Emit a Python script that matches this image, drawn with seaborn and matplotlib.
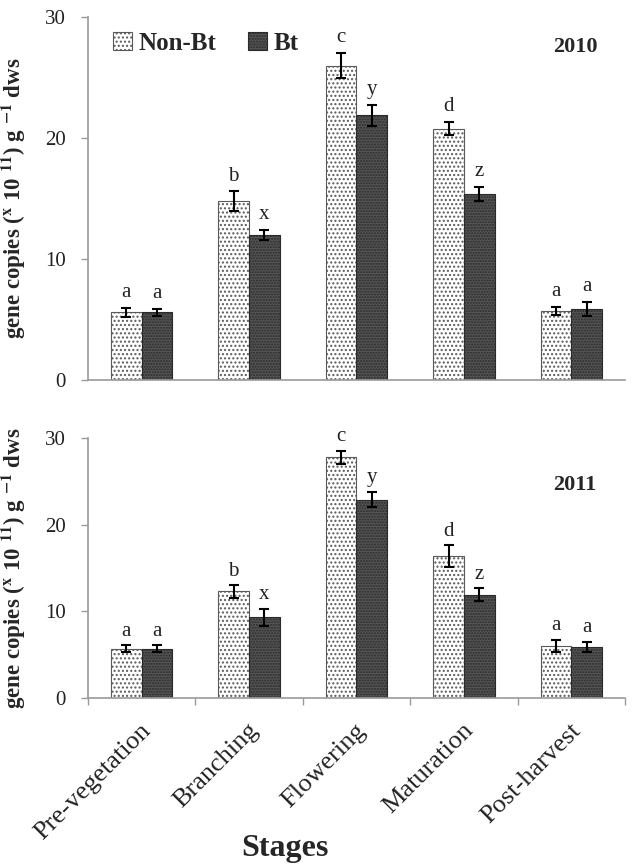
import pandas as pd
import seaborn as sns
import matplotlib.pyplot as plt
from matplotlib import transforms

stages = ['Pre-vegetation', 'Branching', 'Flowering', 'Maturation', 'Post-harvest']
groups = ['Non-Bt', 'Bt']

# 2010 means and standard errors
nonbt_2010 = [5.6, 14.8, 26.0, 20.8, 5.7]
bt_2010 = [5.6, 12.0, 21.9, 15.4, 5.9]
nonbt_2010_err = [0.35, 0.8, 1.05, 0.55, 0.35]
bt_2010_err = [0.3, 0.4, 0.85, 0.55, 0.6]

# 2011 means and standard errors
nonbt_2011 = [5.7, 12.3, 27.8, 16.4, 6.0]
bt_2011 = [5.7, 9.3, 22.9, 11.9, 5.9]
nonbt_2011_err = [0.4, 0.7, 0.75, 1.25, 0.7]
bt_2011_err = [0.4, 1.0, 0.9, 0.75, 0.6]

# significance letters
letters_nonbt = ['a', 'b', 'c', 'd', 'a']
letters_bt = ['a', 'x', 'y', 'z', 'a']

sns.set_style('white')
plt.rcParams['font.family'] = ['Liberation Serif', 'DejaVu Serif']
plt.rcParams['mathtext.fontset'] = 'stix'
plt.rcParams['hatch.linewidth'] = 1.0

spine_col = '#9a9a9a'
ylab = r'gene copies ($^{\mathbf{x}}$ 10 $^{\mathbf{11}}$) g $^{\mathbf{-1}}$ dws'


def draw_panel(ax, nonbt, bt, nonbt_err, bt_err, year, show_x):
    df = pd.DataFrame({
        'stage': stages * 2,
        'group': ['Non-Bt'] * 5 + ['Bt'] * 5,
        'value': nonbt + bt,
    })
    sns.barplot(data=df, x='stage', y='value', hue='group', order=stages,
                hue_order=groups, errorbar=None, width=0.57, gap=0,
                legend=False, ax=ax)

    styles = [dict(fc='white', ec='#5a5a5a', hatch='....'),
              dict(fc='#555555', ec='#2a2a2a', hatch='......')]
    errs = [nonbt_err, bt_err]
    letters = [letters_nonbt, letters_bt]
    pad = 0.9 if year == '2010' else 1.1
    for cont, st, err, lets in zip(ax.containers, styles, errs, letters):
        xs, hs = [], []
        for p in cont:
            p.set_facecolor(st['fc'])
            p.set_edgecolor(st['ec'])
            p.set_hatch(st['hatch'])
            p.set_linewidth(0.8)
            xs.append(p.get_x() + p.get_width() / 2)
            hs.append(p.get_height())
        ax.errorbar(xs, hs, yerr=err, fmt='none', ecolor='black',
                    elinewidth=1.5, capsize=3.5, capthick=1.5, zorder=5)
        for x, h, e, t in zip(xs, hs, err, lets):
            ax.text(x, h + e + pad, t, ha='center', va='baseline',
                    fontsize=15, color='#222222')

    ax.set_ylim(0, 30)
    ax.set_xlim(-0.5, 4.5)
    ax.set_yticks([0, 10, 20, 30])
    ax.tick_params(axis='y', left=True, length=5, width=1, color=spine_col,
                   labelsize=15, pad=11, labelcolor='#222222')
    sns.despine(ax=ax)
    for s in ['left', 'bottom']:
        ax.spines[s].set_color(spine_col)
        ax.spines[s].set_linewidth(1.2)

    ax.set_ylabel(ylab, fontsize=16.5, fontweight='bold')
    ax.yaxis.set_label_coords(-0.112, 0.5)
    ax.set_xlabel('')
    ax.text(0.907, 0.917 if year == '2010' else 0.82, year, transform=ax.transAxes,
            ha='center', va='center', fontsize=16, fontweight='bold')

    if show_x:
        ax.set_xticks([-0.5, 0.5, 1.5, 2.5, 3.5, 4.5], minor=True)
        ax.tick_params(axis='x', which='minor', bottom=True, length=5,
                       width=1, color=spine_col)
        ax.tick_params(axis='x', which='major', bottom=False, length=0,
                       labelsize=19, pad=21, labelcolor='#222222')
        off = transforms.ScaledTranslation(6 / 100, 0, ax.figure.dpi_scale_trans)
        for lab in ax.get_xticklabels():
            lab.set_rotation(45)
            lab.set_ha('right')
            lab.set_va('center')
            lab.set_rotation_mode('anchor')
            lab.set_transform(lab.get_transform() + off)
    else:
        ax.set_xticks([])


fig = plt.figure(figsize=(6.32, 8.66), dpi=100)
ax1 = fig.add_axes([0.139, 0.561, 0.850, 0.419])
ax2 = fig.add_axes([0.139, 0.194, 0.850, 0.300])

draw_panel(ax1, nonbt_2010, bt_2010, nonbt_2010_err, bt_2010_err, '2010', False)
draw_panel(ax2, nonbt_2011, bt_2011, nonbt_2011_err, bt_2011_err, '2011', True)

handles = [ax1.containers[0][0], ax1.containers[1][0]]
ax1.legend(handles, groups, loc='center left', bbox_to_anchor=(0.047, 0.928),
           ncol=2, frameon=False, prop={'weight': 'bold', 'size': 18},
           handlelength=0.75, handleheight=0.75, handletextpad=0.25,
           columnspacing=1.3, borderpad=0, borderaxespad=0)

fig.text(0.451, 0.011, 'Stages', ha='center', va='baseline',
         fontsize=23, fontweight='bold')

fig.savefig('out.png', dpi=100)
